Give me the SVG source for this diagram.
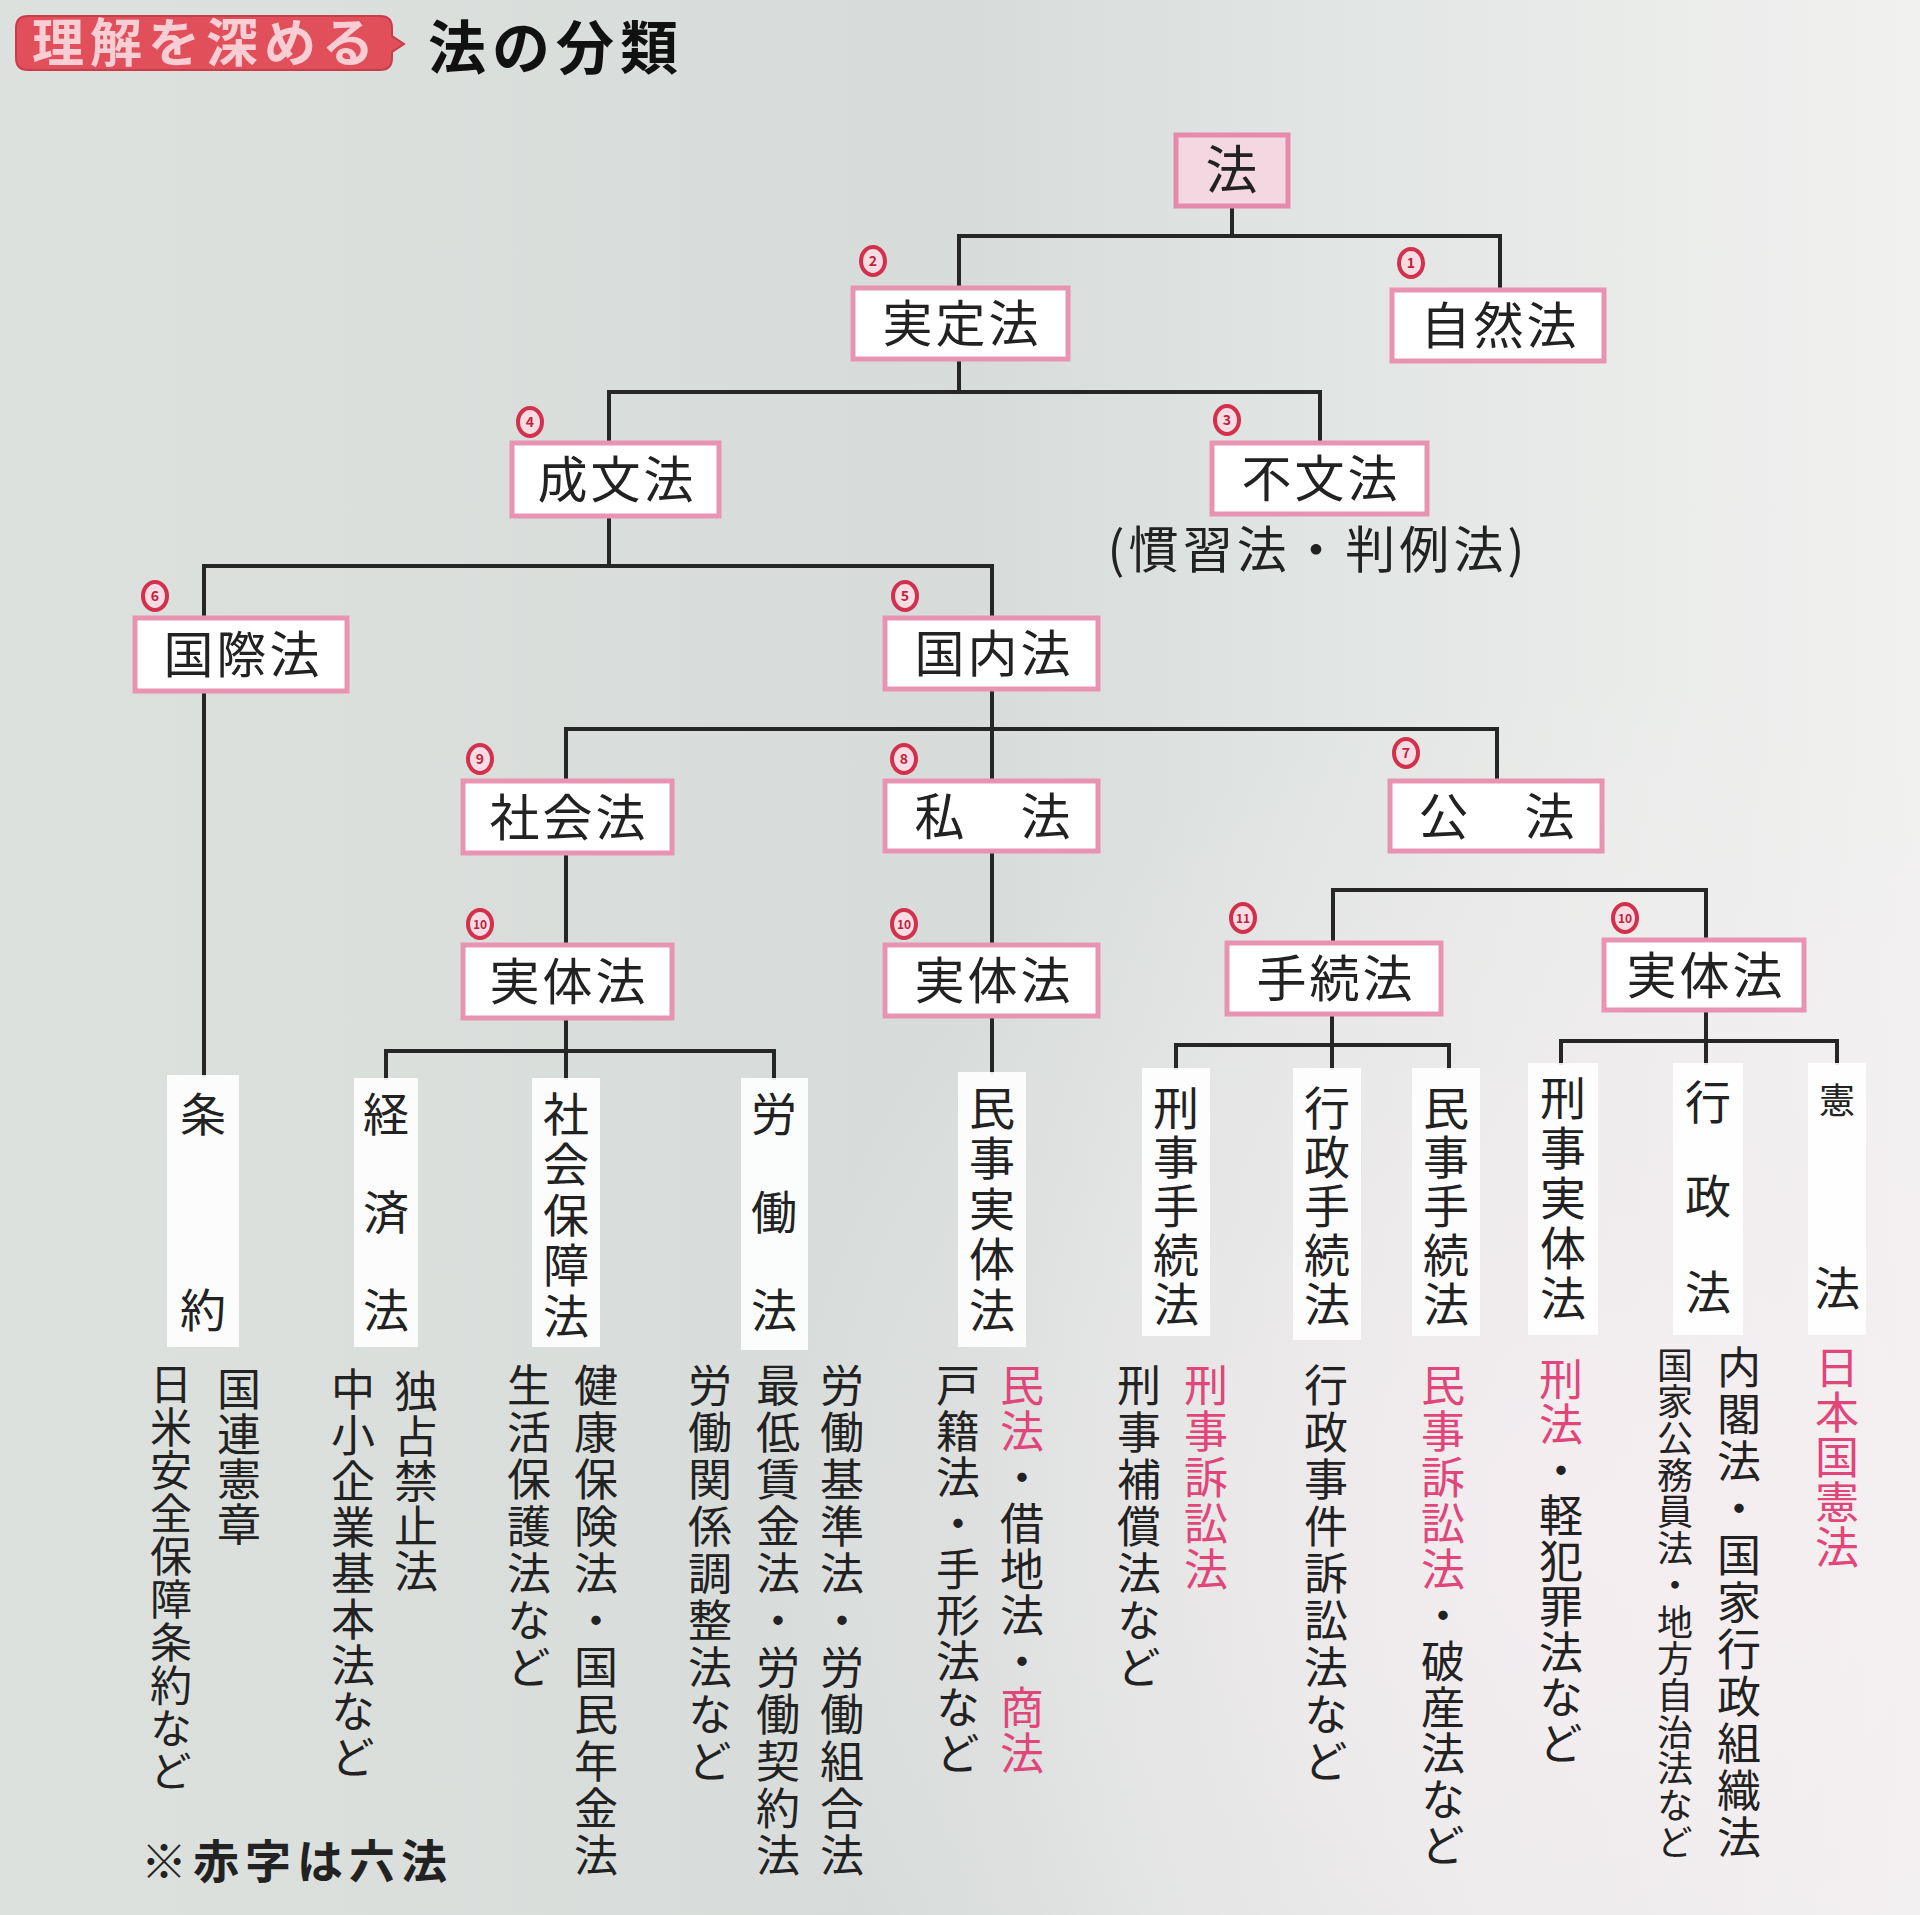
<svg xmlns="http://www.w3.org/2000/svg" width="1920" height="1915" viewBox="0 0 1920 1915">
  <defs>
    <linearGradient id="paper" x1="0" y1="0" x2="1" y2="0">
      <stop offset="0" stop-color="#dce1de"/>
      <stop offset="0.5" stop-color="#d7dcda"/>
      <stop offset="0.78" stop-color="#e6e9e7"/>
      <stop offset="1" stop-color="#f1f1f0"/>
    </linearGradient>
    <radialGradient id="warm" cx="0.85" cy="0.8" r="0.45">
      <stop offset="0" stop-color="#f6eef2" stop-opacity="0.9"/>
      <stop offset="1" stop-color="#f6eef2" stop-opacity="0"/>
    </radialGradient>
    <style>
      text { font-family: "Noto Sans CJK JP", "Noto Sans CJK SC", sans-serif; fill: #222; }
      .box { fill: #ffffff; stroke: #e993b2; stroke-width: 5; }
      .root { fill: #f3d8e2; stroke: #e68aab; stroke-width: 5; }
      .lbl { font-size: 50px; text-anchor: middle; letter-spacing: 3px; }
      .badge ellipse { fill: #f7dde3; stroke: #d3304b; stroke-width: 4; }
      .badge text { font-size: 14px; font-weight: 700; fill: #c0223d; text-anchor: middle; }
      .col { fill: #ffffff; opacity: 0.9; }
      .leaf { font-size: 46px; text-anchor: middle; }
      .v { writing-mode: vertical-rl; font-size: 44px; }
      .red { fill: #e0467a; }
      .links path { fill: none; stroke: #262626; stroke-width: 4; stroke-linecap: square; }
    </style>
  </defs>

  <!-- paper -->
  <rect x="0" y="0" width="1920" height="1915" fill="url(#paper)"/>
  <rect x="0" y="0" width="1920" height="1915" fill="url(#warm)"/>

  <!-- heading -->
  <g id="heading">
    <path d="M28 16 H380 Q392 16 392 28 V36 L404 44 L392 52 V58 Q392 70 380 70 H28 Q16 70 16 58 V28 Q16 16 28 16 Z" fill="#e14f5b" stroke="#c93c49" stroke-width="2"/>
    <text x="32" y="62" font-size="52" font-weight="700" letter-spacing="6" style="fill:#f8cdd3">理解を深める</text>
    <text x="428" y="69" font-size="58" font-weight="700" letter-spacing="6" style="fill:#111">法の分類</text>
  </g>

  <!-- connectors -->
  <g id="connectors" class="links">
    <path d="M1232 206 V236 M959 236 H1500 M959 236 V288 M1500 236 V290"/>
    <path d="M959 359 V392 M609 392 H1320 M609 392 V443 M1320 392 V443"/>
    <path d="M609 517 V566 M204 566 H992 M204 566 V618 M992 566 V618"/>
    <path d="M992 689 V729 M566 729 H1497 M566 729 V781 M992 729 V781 M1497 729 V781"/>
    <path d="M566 853 V945"/>
    <path d="M992 851 V945"/>
    <path d="M1333 890 H1706 M1333 890 V943 M1706 890 V940"/>
    <path d="M204 692 V1075"/>
    <path d="M566 1018 V1051 M386 1051 H774 M386 1051 V1078 M566 1051 V1078 M774 1051 V1078"/>
    <path d="M992 1016 V1072"/>
    <path d="M1332 1014 V1045 M1176 1045 H1449 M1176 1045 V1068 M1332 1045 V1068 M1449 1045 V1068"/>
    <path d="M1706 1010 V1041 M1561 1041 H1837 M1561 1041 V1063 M1706 1041 V1063 M1837 1041 V1063"/>
  </g>

  <!-- category boxes -->
  <g id="n-ho"><rect class="root" x="1176" y="135" width="112" height="71"/><text class="lbl" x="1233" y="189" style="font-size:52px">法</text></g>
  <g id="n-jitteiho"><rect class="box" x="853" y="288" width="215" height="71"/><text class="lbl" x="962" y="342">実定法</text></g>
  <g id="n-shizenho"><rect class="box" x="1392" y="290" width="212" height="71"/><text class="lbl" x="1500" y="344">自然法</text></g>
  <g id="n-seibunho"><rect class="box" x="512" y="443" width="207" height="73"/><text class="lbl" x="617" y="498">成文法</text></g>
  <g id="n-fubunho"><rect class="box" x="1212" y="443" width="215" height="71"/><text class="lbl" x="1321" y="497">不文法</text>
    <text x="1316" y="568" font-size="50" text-anchor="middle" textLength="417" lengthAdjust="spacing">(慣習法・判例法)</text></g>
  <g id="n-kokusaiho"><rect class="box" x="135" y="618" width="212" height="73"/><text class="lbl" x="243" y="673">国際法</text></g>
  <g id="n-kokunaiho"><rect class="box" x="885" y="618" width="213" height="71"/><text class="lbl" x="994" y="672">国内法</text></g>
  <g id="n-shakaiho"><rect class="box" x="463" y="781" width="209" height="72"/><text class="lbl" x="569" y="836">社会法</text></g>
  <g id="n-shiho"><rect class="box" x="885" y="781" width="213" height="70"/><text class="lbl" x="994" y="835">私　法</text></g>
  <g id="n-koho"><rect class="box" x="1390" y="781" width="212" height="70"/><text class="lbl" x="1498" y="835">公　法</text></g>
  <g id="n-jittai-a"><rect class="box" x="463" y="945" width="209" height="73"/><text class="lbl" x="569" y="1000">実体法</text></g>
  <g id="n-jittai-b"><rect class="box" x="885" y="945" width="213" height="71"/><text class="lbl" x="994" y="999">実体法</text></g>
  <g id="n-tetsuzukiho"><rect class="box" x="1227" y="943" width="214" height="71"/><text class="lbl" x="1336" y="997">手続法</text></g>
  <g id="n-jittai-c"><rect class="box" x="1604" y="940" width="200" height="70"/><text class="lbl" x="1706" y="994">実体法</text></g>

  <!-- numbered markers -->
  <g id="markers" class="badge">
    <g><ellipse cx="873" cy="261" rx="12" ry="14"/><text x="873" y="266">2</text></g>
    <g><ellipse cx="1411" cy="263" rx="12" ry="14"/><text x="1411" y="268">1</text></g>
    <g><ellipse cx="530" cy="422" rx="12" ry="14"/><text x="530" y="427">4</text></g>
    <g><ellipse cx="1227" cy="420" rx="12" ry="14"/><text x="1227" y="425">3</text></g>
    <g><ellipse cx="155" cy="596" rx="12" ry="14"/><text x="155" y="601">6</text></g>
    <g><ellipse cx="905" cy="596" rx="12" ry="14"/><text x="905" y="601">5</text></g>
    <g><ellipse cx="480" cy="759" rx="12" ry="14"/><text x="480" y="764">9</text></g>
    <g><ellipse cx="904" cy="759" rx="12" ry="14"/><text x="904" y="764">8</text></g>
    <g><ellipse cx="1406" cy="753" rx="12" ry="14"/><text x="1406" y="758">7</text></g>
    <g><ellipse cx="480" cy="924" rx="12" ry="14"/><text x="480" y="929" style="font-size:12px">10</text></g>
    <g><ellipse cx="904" cy="924" rx="12" ry="14"/><text x="904" y="929" style="font-size:12px">10</text></g>
    <g><ellipse cx="1243" cy="918" rx="12" ry="14"/><text x="1243" y="923" style="font-size:12px">11</text></g>
    <g><ellipse cx="1625" cy="918" rx="12" ry="14"/><text x="1625" y="923" style="font-size:12px">10</text></g>
  </g>

  <!-- leaf columns -->
  <g id="l-joyaku"><rect class="col" x="167" y="1075" width="72" height="272"/>
    <text class="leaf" x="203 203" y="1131 1327">条約</text></g>
  <g id="l-keizaiho"><rect class="col" x="354" y="1078" width="64" height="269"/>
    <text class="leaf" x="386 386 386" y="1131 1229 1327">経済法</text></g>
  <g id="l-shakaihosho"><rect class="col" x="532" y="1078" width="68" height="269"/>
    <text class="leaf" x="566 566 566 566 566" y="1131 1181 1232 1282 1333">社会保障法</text></g>
  <g id="l-rodoho"><rect class="col" x="741" y="1078" width="67" height="272"/>
    <text class="leaf" x="774 774 774" y="1131 1229 1327">労働法</text></g>
  <g id="l-minji-jittai"><rect class="col" x="958" y="1072" width="68" height="275"/>
    <text class="leaf" x="992 992 992 992 992" y="1125 1175 1226 1276 1327">民事実体法</text></g>
  <g id="l-keiji-tetsuzuki"><rect class="col" x="1142" y="1068" width="68" height="268"/>
    <text class="leaf" x="1176 1176 1176 1176 1176" y="1125 1174 1223 1272 1321">刑事手続法</text></g>
  <g id="l-gyosei-tetsuzuki"><rect class="col" x="1293" y="1068" width="68" height="272"/>
    <text class="leaf" x="1327 1327 1327 1327 1327" y="1125 1174 1223 1272 1321">行政手続法</text></g>
  <g id="l-minji-tetsuzuki"><rect class="col" x="1412" y="1068" width="68" height="268"/>
    <text class="leaf" x="1446 1446 1446 1446 1446" y="1125 1174 1223 1272 1321">民事手続法</text></g>
  <g id="l-keiji-jittai"><rect class="col" x="1528" y="1063" width="70" height="272"/>
    <text class="leaf" x="1563 1563 1563 1563 1563" y="1115 1165 1215 1265 1315">刑事実体法</text></g>
  <g id="l-gyoseiho"><rect class="col" x="1673" y="1063" width="70" height="272"/>
    <text class="leaf" x="1708 1708 1708" y="1119 1213 1309">行政法</text></g>
  <g id="l-kenpo"><rect class="col" x="1808" y="1063" width="58" height="272"/>
    <text class="leaf" x="1837" y="1114" style="font-size:36px">憲</text>
    <text class="leaf" x="1837" y="1305">法</text></g>

  <!-- statute lists -->
  <g id="examples">
    <text class="v" x="239" y="1367" letter-spacing="1">国連憲章</text>
    <text class="v" x="171" y="1363" style="font-size:42px" letter-spacing="1">日米安全保障条約など</text>
    <text class="v" x="416" y="1369" letter-spacing="1">独占禁止法</text>
    <text class="v" x="353" y="1367" letter-spacing="2">中小企業基本法など</text>
    <text class="v" x="596" y="1363" letter-spacing="3">健康保険法・国民年金法</text>
    <text class="v" x="529" y="1363" letter-spacing="3">生活保護法など</text>
    <text class="v" x="842" y="1363" letter-spacing="3">労働基準法・労働組合法</text>
    <text class="v" x="778" y="1363" letter-spacing="3">最低賃金法・労働契約法</text>
    <text class="v" x="710" y="1363" letter-spacing="3">労働関係調整法など</text>
    <text class="v" x="1022" y="1363" letter-spacing="2"><tspan class="red">民法</tspan>・借地法・<tspan class="red">商法</tspan></text>
    <text class="v" x="958" y="1363" letter-spacing="2">戸籍法・手形法など</text>
    <text class="v red" x="1206" y="1363" letter-spacing="2">刑事訴訟法</text>
    <text class="v" x="1139" y="1363" letter-spacing="3">刑事補償法など</text>
    <text class="v" x="1326" y="1363" letter-spacing="3">行政事件訴訟法など</text>
    <text class="v" x="1443" y="1363" letter-spacing="2"><tspan class="red">民事訴訟法</tspan>・破産法など</text>
    <text class="v" x="1561" y="1357" letter-spacing="1.5"><tspan class="red">刑法</tspan>・軽犯罪法など</text>
    <text class="v" x="1739" y="1345" letter-spacing="3">内閣法・国家行政組織法</text>
    <text class="v" x="1675" y="1347" style="font-size:36px" letter-spacing="0.7">国家公務員法・地方自治法など</text>
    <text class="v red" x="1837" y="1345" letter-spacing="1">日本国憲法</text>
    <text x="141" y="1878" font-size="46" font-weight="700" letter-spacing="6">※赤字は六法</text>
  </g>
</svg>
